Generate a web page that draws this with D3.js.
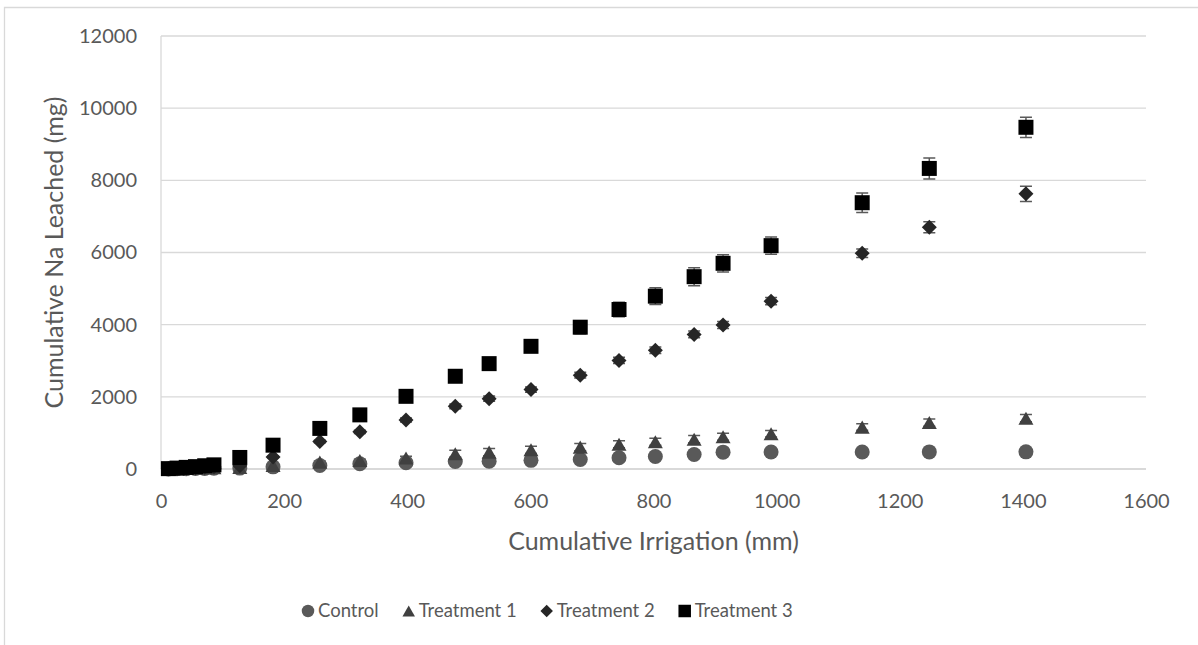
<!DOCTYPE html>
<html>
<head>
<meta charset="utf-8">
<script src="https://cdn.jsdelivr.net/npm/d3@7/dist/d3.min.js"></script>
<style>
  html, body { margin: 0; padding: 0; background: #ffffff; }
  svg { display: block; }
  text { font-family: Lato, "Open Sans", "Noto Sans", sans-serif; fill: #595959; }
</style>
</head>
<body>
<svg id="chart" width="1198" height="645"></svg>
<script>
// Cumulative irrigation applied (mm) at each sampling event
const irrigation = [12, 26, 41, 56, 71, 86, 128, 182, 258, 323, 398, 478, 533, 601, 681, 744, 803, 866, 913, 991, 1139, 1248, 1405];

// Cumulative Na leached (mg), mean per treatment
const controlNa = [2, 5, 9, 13, 17, 21, 25, 60, 97, 144, 175, 208, 218, 240, 264, 311, 347, 403, 467, 470, 472, 474, 476];
const treatment1Na = [3, 8, 14, 20, 26, 32, 40, 100, 190, 235, 305, 422, 467, 533, 606, 686, 755, 825, 894, 978, 1161, 1286, 1408];
const treatment2Na = [6, 14, 24, 36, 50, 64, 90, 330, 760, 1030, 1360, 1736, 1950, 2200, 2600, 3010, 3290, 3730, 3990, 4650, 5980, 6700, 7625];
const treatment3Na = [10, 25, 45, 65, 90, 115, 320, 660, 1125, 1500, 2014, 2570, 2920, 3400, 3930, 4420, 4790, 5330, 5700, 6190, 7380, 8330, 9470];

// Standard errors (mg)
const controlErr = [1, 1, 2, 2, 2, 3, 4, 6, 8, 10, 12, 14, 15, 16, 18, 20, 20, 22, 25, 25, 25, 25, 25];
const treatment1Err = [1, 2, 2, 3, 3, 4, 6, 12, 25, 35, 50, 100, 100, 100, 100, 100, 100, 100, 100, 90, 90, 100, 100];
const treatment2Err = [1, 2, 3, 4, 5, 6, 8, 20, 35, 45, 55, 65, 70, 75, 80, 85, 90, 95, 95, 100, 120, 150, 210];
const treatment3Err = [2, 3, 4, 5, 6, 8, 20, 35, 50, 65, 80, 100, 110, 130, 180, 200, 230, 250, 240, 240, 270, 290, 280];

const seriesNames = ["Control", "Treatment 1", "Treatment 2", "Treatment 3"];

// Axis ticks
const xTicks = [0, 200, 400, 600, 800, 1000, 1200, 1400, 1600];
const yTicks = [0, 2000, 4000, 6000, 8000, 10000, 12000];

const xTitle = "Cumulative Irrigation (mm)";
const yTitle = "Cumulative Na Leached (mg)";

// ---- layout and styles ----
const plot = { left: 161, right: 1146, top: 36, bottom: 469 };
const colors = ["#595959", "#404040", "#262626", "#000000"];
const shapes = ["circle", "triangle", "diamond", "square"];

const series = seriesNames.map((name, i) => ({
  name,
  values: [controlNa, treatment1Na, treatment2Na, treatment3Na][i],
  errors: [controlErr, treatment1Err, treatment2Err, treatment3Err][i],
  color: colors[i],
  shape: shapes[i]
}));

const svg = d3.select("#chart");

const x = d3.scaleLinear().domain([0, 1600]).range([plot.left, plot.right]);
const y = d3.scaleLinear().domain([0, 12000]).range([plot.bottom, plot.top]);

// marker outline generator, centred at the origin
function markerPath(shape, s) {
  const h = s / 2;
  if (shape === "circle") {
    return `M${-h},0A${h},${h} 0 1,0 ${h},0A${h},${h} 0 1,0 ${-h},0Z`;
  }
  if (shape === "square") {
    return `M${-h},${-h}H${h}V${h}H${-h}Z`;
  }
  if (shape === "diamond") {
    return `M0,${-h}L${h},0L0,${h}L${-h},0Z`;
  }
  // triangle, centred in its bounding box
  const th = s * 0.87 / 2;
  return `M0,${-th}L${h},${th}L${-h},${th}Z`;
}

// chart area border (top and left edges)
svg.append("path")
  .attr("d", "M4.5,645V7.5H1198")
  .attr("fill", "none")
  .attr("stroke", "#d9d9d9")
  .attr("stroke-width", 1.3);

// horizontal gridlines
svg.append("g")
  .selectAll("line")
  .data(yTicks.filter(t => t !== 0))
  .join("line")
  .attr("x1", plot.left).attr("x2", plot.right)
  .attr("y1", d => y(d)).attr("y2", d => y(d))
  .attr("stroke", "#d9d9d9")
  .attr("stroke-width", 1.3);

// vertical axis line
svg.append("line")
  .attr("x1", x(0)).attr("x2", x(0))
  .attr("y1", y(12000)).attr("y2", y(0))
  .attr("stroke", "#d9d9d9")
  .attr("stroke-width", 1.3);

// horizontal axis line
svg.append("line")
  .attr("x1", plot.left).attr("x2", plot.right)
  .attr("y1", y(0)).attr("y2", y(0))
  .attr("stroke", "#cccccc")
  .attr("stroke-width", 1.3);

// axes (labels only)
const xAxis = svg.append("g")
  .attr("transform", `translate(0,${plot.bottom})`)
  .call(d3.axisBottom(x).tickValues(xTicks).tickSize(0).tickPadding(25).tickFormat(d3.format("d")));
const yAxis = svg.append("g")
  .attr("transform", `translate(${plot.left},0)`)
  .call(d3.axisLeft(y).tickValues(yTicks).tickSize(0).tickPadding(24).tickFormat(d3.format("d")));
[xAxis, yAxis].forEach(g => {
  g.select(".domain").remove();
  g.selectAll("text")
    .attr("fill", "#595959")
    .style("font-family", "Lato, 'Open Sans', sans-serif")
    .style("font-size", "20px");
});

// axis titles
svg.append("text")
  .attr("x", (plot.left + plot.right) / 2)
  .attr("y", 550)
  .attr("text-anchor", "middle")
  .style("font-size", "25px")
  .text(xTitle);

svg.append("text")
  .attr("transform", `translate(63,${(plot.top + plot.bottom) / 2}) rotate(-90)`)
  .attr("text-anchor", "middle")
  .style("font-size", "25px")
  .text(yTitle);

// series: error bars beneath, markers on top
const markerSize = 15;
const capHalf = 6;
series.forEach(s => {
  const g = svg.append("g").attr("class", "series");
  const pts = irrigation.map((xv, i) => ({ x: xv, v: s.values[i], e: s.errors[i] }));

  const eb = g.append("g")
    .attr("stroke", "#595959")
    .attr("stroke-width", 1.5)
    .attr("fill", "none");
  eb.selectAll("path")
    .data(pts)
    .join("path")
    .attr("d", d => {
      const px = x(d.x), lo = y(d.v - d.e), hi = y(d.v + d.e);
      return `M${px},${lo}V${hi}M${px - capHalf},${hi}H${px + capHalf}M${px - capHalf},${lo}H${px + capHalf}`;
    });

  g.append("g")
    .selectAll("path")
    .data(pts)
    .join("path")
    .attr("transform", d => `translate(${x(d.x)},${y(d.v)})`)
    .attr("d", markerPath(s.shape, markerSize))
    .attr("fill", s.color);
});

// legend
const legend = svg.append("g").attr("transform", "translate(0,611)");
let cursor = 302;
series.forEach(s => {
  const item = legend.append("g");
  item.append("path")
    .attr("transform", `translate(${cursor + 6},0)`)
    .attr("d", markerPath(s.shape, 12.5))
    .attr("fill", s.color);
  const t = item.append("text")
    .attr("x", cursor + 16)
    .attr("y", 0)
    .attr("dy", "0.35em")
    .style("font-size", "18.5px")
    .text(s.name);
  cursor += 16 + t.node().getComputedTextLength() + 24;
});
</script>
</body>
</html>
